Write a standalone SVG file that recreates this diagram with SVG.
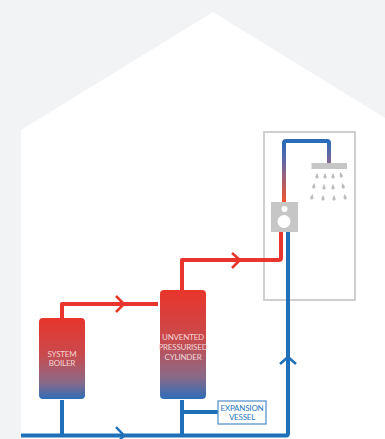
<svg xmlns="http://www.w3.org/2000/svg" width="385" height="439" viewBox="0 0 385 439">
<style>
.p{fill:none;stroke-width:4;stroke-linejoin:round}
.r{stroke:#e8352d}.b{stroke:#1f70b8}
.c{fill:none;stroke-width:2.5}
.t{font-family:Lato,"Liberation Sans",sans-serif;font-size:8px;text-anchor:middle;fill:#f3d5d5;letter-spacing:-.2px}
.e{font-family:Lato,"Liberation Sans",sans-serif;font-size:8px;text-anchor:middle;fill:#2b78bd;letter-spacing:-.2px}
.d{fill:#bdbdbd}
</style>
<defs>
<linearGradient id="tank" x1="0" y1="0" x2="0" y2="1"><stop offset="0" stop-color="#e8352b"/><stop offset=".45" stop-color="#c94a4d"/><stop offset=".8" stop-color="#8a6a88"/><stop offset="1" stop-color="#2d6db8"/></linearGradient>
<linearGradient id="riser" gradientUnits="userSpaceOnUse" x1="0" y1="141" x2="0" y2="202"><stop offset="0" stop-color="#2a6cb8"/><stop offset=".3" stop-color="#5a68a8"/><stop offset=".6" stop-color="#a0607a"/><stop offset="1" stop-color="#f0552a"/></linearGradient>
<linearGradient id="drop" gradientUnits="userSpaceOnUse" x1="0" y1="141" x2="0" y2="164"><stop offset="0" stop-color="#2a6cb8"/><stop offset="1" stop-color="#8a6590"/></linearGradient>
<path id="dp" d="M0-3C.9-1 1.6 0 1.6 1A1.6 1.6 0 0 1-1.6 1C-1.6 0-.9-1 0-3Z"/>
</defs>
<rect width="385" height="439" fill="#f2f3f5"/>
<path d="M21 130L213 12L385 118V439H21Z" fill="#fff"/>
<g id="shower-frame"><rect x="264" y="132" width="91" height="168" fill="none" stroke="#cfcfcf" stroke-width="2"/></g>
<g id="connectors">
<path class="p" stroke="url(#riser)" d="M284 203V144"/>
<path class="p" stroke="#2a6cb8" d="M284 145V143Q284 141 286 141H327Q329 141 329 143V145"/>
<path class="p" stroke="url(#drop)" d="M329 144V164"/>
<path class="p r" d="M281 232V258Q281 260 279 260H182V290"/>
<path class="p r" d="M62 318V304H158"/>
<path class="p b" d="M288 232V433Q288 435.500 286 435.500H21"/>
<path class="p b" d="M62 400V435M182 400V435M182 412H218"/>
<path class="c r" d="M116 296L124 304L116 312"/>
<path class="c r" d="M232 253L240 260L232 268"/>
<path class="c b" d="M116 427L124 435.500L116 444"/>
<path class="c b" d="M280 364L288 357L296 364"/>
</g>
<g id="mixer"><rect x="271" y="202" width="27" height="30" fill="#c6c6c6"/><circle cx="284.500" cy="209" r="3" fill="#fff"/><circle cx="284" cy="221.500" r="6.500" fill="#fff"/></g>
<g id="shower-head"><rect x="311.500" y="163" width="35.500" height="6" fill="#c6c6c6"/>
<use href="#dp" class="d" x="317" y="176"/><use href="#dp" class="d" x="325" y="176"/><use href="#dp" class="d" x="333" y="176"/><use href="#dp" class="d" x="341" y="175" transform="rotate(-12 341 175)"/>
<use href="#dp" class="d" x="314" y="186" transform="rotate(12 314 186)"/><use href="#dp" class="d" x="324" y="187"/><use href="#dp" class="d" x="333" y="187"/><use href="#dp" class="d" x="343" y="186" transform="rotate(-12 343 186)"/>
<use href="#dp" class="d" x="312" y="197" transform="rotate(12 312 197)"/><use href="#dp" class="d" x="323" y="198"/><use href="#dp" class="d" x="334" y="198"/><use href="#dp" class="d" x="345" y="197" transform="rotate(-12 345 197)"/></g>
<g id="boiler"><rect x="39" y="318" width="46" height="81" rx="4" fill="url(#tank)"/><text class="t" x="62" y="357">SYSTEM</text><text class="t" x="62" y="366">BOILER</text></g>
<g id="cylinder"><rect x="160" y="290" width="46" height="109" rx="4" fill="url(#tank)"/><text class="t" x="183" y="340">UNVENTED</text><text class="t" x="183" y="349.500">PRESSURISED</text><text class="t" x="183" y="359.500">CYLINDER</text></g>
<g id="expansion-vessel"><rect x="218" y="401" width="48" height="23" fill="#fff" stroke="#5a96cc" stroke-width="1.300"/><text class="e" x="242" y="411">EXPANSION</text><text class="e" x="242" y="420">VESSEL</text></g>
</svg>
